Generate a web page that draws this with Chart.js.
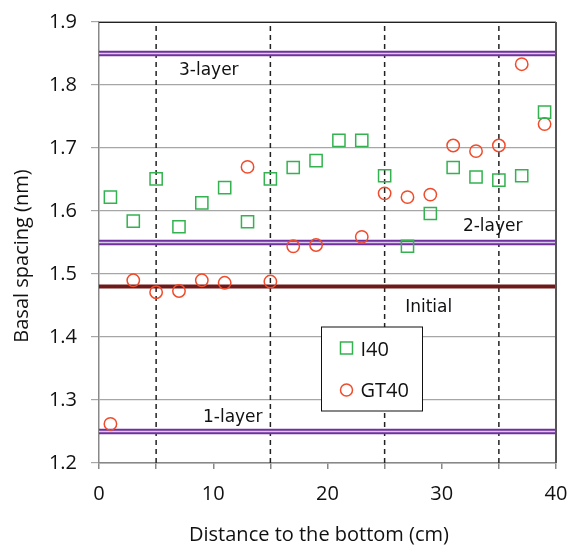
<!DOCTYPE html>
<html>
<head>
<meta charset="utf-8">
<script src="https://cdn.jsdelivr.net/npm/chart.js@4"></script>
<style>
  html, body { margin: 0; padding: 0; background: #fff; }
  #wrap { width: 571px; height: 545px; }
</style>
</head>
<body>
<div id="wrap"><canvas id="chart" width="571" height="545"></canvas></div>
<script>
// measured positions (cm from bottom)
const i40Pos = [1, 3, 5, 7, 9, 11, 13, 15, 17, 19, 21, 23, 25, 27, 29, 31, 33, 35, 37, 39];
const i40Vals = [1.622, 1.584, 1.651, 1.575, 1.613, 1.637, 1.583, 1.651, 1.669, 1.680,
                 1.712, 1.712, 1.656, 1.544, 1.596, 1.669, 1.654, 1.649, 1.656, 1.757];

const gt40Pos = [1, 3, 5, 7, 9, 11, 13, 15, 17, 19, 23, 25, 27, 29, 31, 33, 35, 37, 39];
const gt40Vals = [1.262, 1.490, 1.471, 1.473, 1.490, 1.486, 1.670, 1.488, 1.544, 1.546,
                  1.559, 1.628, 1.622, 1.626, 1.704, 1.695, 1.704, 1.833, 1.738];

const layerLevels = [1.85, 1.55, 1.25];
const layerNames = ['3-layer', '2-layer', '1-layer'];
const initialLevel = 1.48;
const sectionBounds = [5, 15, 25, 35];

const xTitle = 'Distance to the bottom (cm)';
const yTitle = 'Basal spacing (nm)';

const X_MIN = 0, X_MAX = 40;
const Y_MIN = 1.2, Y_MAX = 1.9;

const FONT = '"Open Sans", Lato, sans-serif';
const LABEL_FONT = '"DejaVu Sans", Verdana, sans-serif';

function toPoints(xs, ys) {
    return xs.map((x, i) => ({ x: x, y: ys[i] }));
}

function hLine(y) {
    return [{ x: X_MIN, y: y }, { x: X_MAX, y: y }];
}

const datasets = [
    {
        label: 'I40',
        data: toPoints(i40Pos, i40Vals),
        pointStyle: 'rect',
        pointRadius: 8.6,
        borderColor: '#33b24f',
        backgroundColor: 'rgba(0,0,0,0)',
        borderWidth: 1.5,
        order: 0
    },
    {
        label: 'GT40',
        data: toPoints(gt40Pos, gt40Vals),
        pointStyle: 'circle',
        pointRadius: 6.2,
        borderColor: '#f04b2b',
        backgroundColor: 'rgba(0,0,0,0)',
        borderWidth: 1.5,
        order: 0
    },
    {
        label: 'Initial',
        data: hLine(initialLevel),
        showLine: true,
        pointRadius: 0,
        borderColor: '#6e1a1a',
        borderWidth: 4,
        order: 1
    }
];

layerLevels.forEach((lv) => {
    datasets.push({
        data: hLine(lv),
        showLine: true,
        pointRadius: 0,
        borderColor: '#d9cceb',
        borderWidth: 1.5,
        order: 2
    });
    datasets.push({
        data: hLine(lv),
        showLine: true,
        pointRadius: 0,
        borderColor: '#7030a0',
        borderWidth: 5.5,
        order: 3
    });
});

sectionBounds.forEach((b) => {
    datasets.push({
        data: [{ x: b, y: Y_MIN }, { x: b, y: Y_MAX }],
        showLine: true,
        pointRadius: 0,
        borderColor: '#222',
        borderWidth: 1.5,
        borderDash: [5, 4],
        order: 4
    });
});

// frame, axis titles, line names and the boxed legend
const extras = {
    id: 'extras',
    afterDraw(chart) {
        const { ctx, chartArea: a, scales: { x, y } } = chart;
        ctx.save();

        ctx.strokeStyle = '#222';
        ctx.lineWidth = 1;
        ctx.beginPath();
        ctx.moveTo(a.left, a.top + 0.5);
        ctx.lineTo(a.right, a.top + 0.5);
        ctx.stroke();
        ctx.strokeStyle = '#555';
        ctx.lineWidth = 2;
        ctx.beginPath();
        ctx.moveTo(a.right, a.top);
        ctx.lineTo(a.right, a.bottom);
        ctx.stroke();

        // axis titles (Excel puts them a little off-centre)
        ctx.fillStyle = '#111';
        ctx.font = '20px ' + FONT;
        ctx.textAlign = 'center';
        ctx.textBaseline = 'alphabetic';
        ctx.fillText(xTitle, 319, 541);
        ctx.save();
        ctx.translate(28, 256);
        ctx.rotate(-Math.PI / 2);
        ctx.fillText(yTitle, 0, 0);
        ctx.restore();

        ctx.textAlign = 'left';
        ctx.font = '17px ' + LABEL_FONT;
        const spots = [[7.0, 1.816], [31.85, 1.568], [9.1, 1.265]];
        layerNames.forEach((name, i) => {
            ctx.fillText(name, x.getPixelForValue(spots[i][0]), y.getPixelForValue(spots[i][1]));
        });
        ctx.fillText('Initial', x.getPixelForValue(26.8), y.getPixelForValue(1.440));

        // legend box
        const lx = 321.5, ly = 327, lw = 101, lh = 84;
        ctx.fillStyle = '#fff';
        ctx.fillRect(lx, ly, lw, lh);
        ctx.strokeStyle = '#111';
        ctx.lineWidth = 1;
        ctx.strokeRect(lx, ly, lw, lh);

        ctx.lineWidth = 1.5;
        ctx.strokeStyle = datasets[0].borderColor;
        ctx.strokeRect(lx + 19, ly + 15, 12, 12);
        ctx.strokeStyle = datasets[1].borderColor;
        ctx.beginPath();
        ctx.arc(lx + 25, ly + 63, 6, 0, Math.PI * 2);
        ctx.stroke();

        ctx.fillStyle = '#111';
        ctx.font = '20px ' + FONT;
        ctx.fillText('I40', lx + 39, ly + 29);
        ctx.fillText('GT40', lx + 39, ly + 70);

        ctx.restore();
    }
};

new Chart(document.getElementById('chart'), {
    type: 'scatter',
    data: { datasets: datasets },
    options: {
        responsive: false,
        animation: false,
        layout: { padding: { top: 22, right: 15, left: 0, bottom: 0 } },
        plugins: {
            legend: { display: false },
            tooltip: { enabled: false }
        },
        scales: {
            x: {
                type: 'linear',
                min: X_MIN,
                max: X_MAX,
                afterFit: (s) => {
                    s.height = 82;
                    s.paddingLeft = 0;
                    s.paddingRight = 0;
                },
                ticks: {
                    stepSize: 5,
                    autoSkip: false,
                    maxRotation: 0,
                    padding: 13,
                    color: '#111',
                    font: { family: FONT, size: 20 },
                    callback: (v) => (v % 10 === 0 ? v : '')
                },
                grid: {
                    drawOnChartArea: false,
                    drawTicks: true,
                    tickLength: 6,
                    color: '#888',
                    lineWidth: 1.5
                },
                border: { color: '#888', width: 1.5 }
            },
            y: {
                min: Y_MIN,
                max: Y_MAX,
                afterFit: (s) => {
                    s.width = 99;
                    s.paddingTop = 0;
                    s.paddingBottom = 0;
                },
                ticks: {
                    stepSize: 0.1,
                    padding: 14,
                    color: '#111',
                    font: { family: FONT, size: 20 },
                    callback: (v) => v.toFixed(1)
                },
                grid: {
                    color: '#a6a6a6',
                    lineWidth: 1.2,
                    tickLength: 8
                },
                border: { color: '#888', width: 1.5 }
            }
        }
    },
    plugins: [extras]
});
</script>
</body>
</html>
